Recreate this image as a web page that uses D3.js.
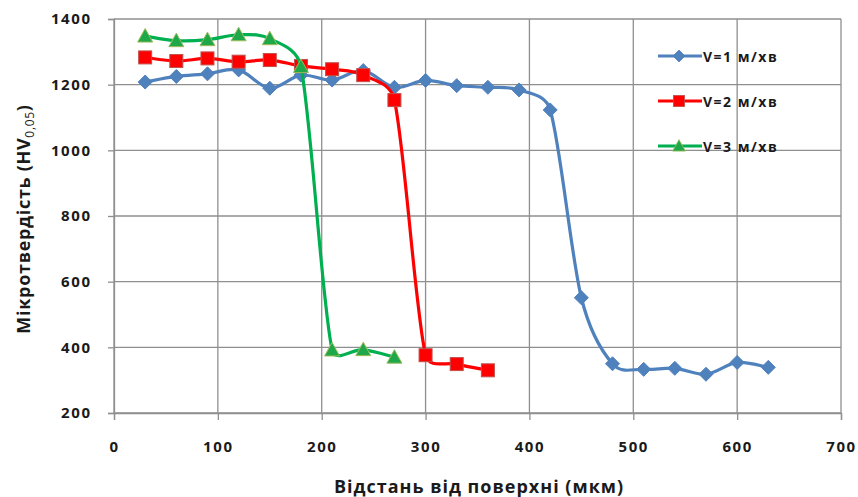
<!DOCTYPE html>
<html>
<head>
<meta charset="utf-8">
<script src="https://cdn.jsdelivr.net/npm/d3@7"></script>
<style>
  body { margin: 0; background: #fff; }
  text { font-family: "Open Sans", sans-serif; font-weight: bold; fill: #1a1a1a; }
</style>
</head>
<body>
<div id="graph"></div>
<script>
// depth from surface, um
var depth = [30, 60, 90, 120, 150, 180, 210, 240, 270, 300, 330, 360, 390, 420, 450, 480, 510, 540, 570, 600, 630]
var v1 = [1208, 1225, 1233, 1245, 1189, 1229, 1214, 1243, 1192, 1213, 1197, 1192, 1184, 1123, 551, 350, 333, 336, 318, 354, 339]
var v2 = [1283, 1272, 1280, 1270, 1275, 1257, 1247, 1229, 1153, 376, 349, 330]
var v3 = [1348, 1334, 1337, 1352, 1340, 1255, 392, 393, 370]
var seriesNames = ['V=1 м/хв', 'V=2 м/хв', 'V=3 м/хв']
var xTicks = [0, 100, 200, 300, 400, 500, 600, 700]
var yTicks = [200, 400, 600, 800, 1000, 1200, 1400]

var width = 858, height = 497
var svg = d3.select('#graph').append('svg')
    .attr('width', width)
    .attr('height', height)

var x = d3.scaleLinear().domain([0, 700]).range([114, 841])
var y = d3.scaleLinear().domain([200, 1400]).range([413, 19])

var gridColor = '#8f8f8f'

// grid
svg.append('g').selectAll('line.v')
  .data(xTicks).enter().append('line')
    .attr('x1', d => x(d)).attr('x2', d => x(d))
    .attr('y1', y(1400)).attr('y2', y(200))
    .attr('stroke', gridColor).attr('stroke-width', 1.3)
svg.append('g').selectAll('line.h')
  .data(yTicks).enter().append('line')
    .attr('x1', x(0)).attr('x2', x(700))
    .attr('y1', d => y(d)).attr('y2', d => y(d))
    .attr('stroke', gridColor).attr('stroke-width', 1.3)

// axes
var xAxis = svg.append('g')
    .attr('transform', 'translate(0,' + y(200) + ')')
    .call(d3.axisBottom(x).tickValues(xTicks).tickFormat(d3.format('d')).tickSize(7).tickPadding(21))
var yAxis = svg.append('g')
    .attr('transform', 'translate(' + x(0) + ',0)')
    .call(d3.axisLeft(y).tickValues(yTicks).tickFormat(d3.format('d')).tickSize(6).tickPadding(18))
;[xAxis, yAxis].forEach(function(a){
  a.select('.domain').attr('stroke', gridColor).attr('stroke-width', 1.3)
  a.selectAll('.tick line').attr('stroke', gridColor).attr('stroke-width', 1.3)
  a.selectAll('.tick text')
    .style('font-size', '15px')
    .style('letter-spacing', '1.6px')
    .style('font-family', '"Open Sans", sans-serif')
    .attr('fill', '#1a1a1a')
})
yAxis.selectAll('.tick text').attr('dx', 1.6)

// titles
svg.append('text')
    .attr('x', 479).attr('y', 493)
    .attr('text-anchor', 'middle')
    .style('font-size', '18px')
    .style('letter-spacing', '1px')
    .text('Відстань від поверхні (мкм)')

var yt = svg.append('text')
    .attr('transform', 'translate(30,219) rotate(-90)')
    .attr('text-anchor', 'middle')
    .style('font-size', '18px')
    .style('letter-spacing', '0.7px')
yt.append('tspan').text('Мікротвердість (HV')
yt.append('tspan').attr('dy', 4).style('font-size', '12px').style('font-weight', 'normal').text('0,05')
yt.append('tspan').attr('dy', -4).text(')')

var series = [
  {name: seriesNames[0], values: v1, color: '#4f81bd', marker: 'diamond'},
  {name: seriesNames[1], values: v2, color: '#ff0000', marker: 'square'},
  {name: seriesNames[2], values: v3, color: '#00b050', marker: 'triangle'}
]

// smooth line like a spreadsheet: catmull-rom tangents, clamped so they don't overshoot much
function smoothPath(pts, k){
  var p = d3.path()
  var n = pts.length
  function tan(i){
    var a = pts[Math.max(i - 1, 0)], b = pts[Math.min(i + 1, n - 1)]
    return [(b[0] - a[0]) / 6, (b[1] - a[1]) / 6]
  }
  p.moveTo(pts[0][0], pts[0][1])
  for (var i = 0; i < n - 1; i++){
    var P0 = pts[i], P1 = pts[i + 1]
    var d = Math.hypot(P1[0] - P0[0], P1[1] - P0[1])
    var t0 = tan(i), t1 = tan(i + 1)
    var l0 = Math.hypot(t0[0], t0[1]) || 1, l1 = Math.hypot(t1[0], t1[1]) || 1
    var s0 = Math.min(1, k * d / l0), s1 = Math.min(1, k * d / l1)
    p.bezierCurveTo(P0[0] + t0[0] * s0, P0[1] + t0[1] * s0,
                    P1[0] - t1[0] * s1, P1[1] - t1[1] * s1,
                    P1[0], P1[1])
  }
  return p.toString()
}

function drawMarker(g, type, color, sc){
  sc = sc || 1
  if (type == 'diamond') {
    g.append('path')
      .attr('d', 'M0,-7 L7,0 L0,7 L-7,0 Z')
      .attr('transform', 'scale(' + sc + ')')
      .attr('fill', color).attr('stroke', color)
  } else if (type == 'square') {
    g.append('rect')
      .attr('x', -6.5).attr('y', -6.5).attr('width', 13).attr('height', 13)
      .attr('transform', 'scale(' + sc + ')')
      .attr('fill', '#ff0000').attr('stroke', '#c0504d').attr('stroke-width', 1)
  } else {
    g.append('path')
      .attr('d', 'M0,-7.5 L7.5,6 L-7.5,6 Z')
      .attr('transform', 'scale(' + sc + ')')
      .attr('fill', '#1fa84a').attr('stroke', '#9bbb59').attr('stroke-width', 1)
  }
}

series.forEach(function(s){
  var pts = s.values.map((v, i) => [depth[i], v])
  svg.append('path')
    .attr('d', smoothPath(pts.map(d => [x(d[0]), y(d[1])]), 0.45))
    .attr('fill', 'none')
    .attr('stroke', s.color)
    .attr('stroke-width', 3.2)
  svg.append('g').selectAll('g')
    .data(pts).enter().append('g')
      .attr('transform', d => 'translate(' + x(d[0]) + ',' + y(d[1]) + ')')
      .each(function(){ drawMarker(d3.select(this), s.marker, s.color) })
})

// legend
var legend = svg.append('g')
series.forEach(function(s, i){
  var ly = 56 + i * 45
  legend.append('line')
    .attr('x1', 658).attr('x2', 702)
    .attr('y1', ly).attr('y2', ly)
    .attr('stroke', s.color).attr('stroke-width', 3.2)
  var m = legend.append('g').attr('transform', 'translate(679,' + ly + ')')
  drawMarker(m, s.marker, s.color, 0.85)
  legend.append('text')
    .attr('x', 703).attr('y', ly + 6)
    .style('font-size', '14px')
    .style('letter-spacing', '1.5px')
    .text(s.name)
})
</script>
</body>
</html>
